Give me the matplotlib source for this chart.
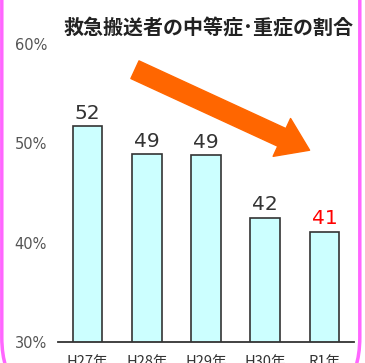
import matplotlib
matplotlib.use("Agg")
import matplotlib.pyplot as plt
from matplotlib.patches import FancyBboxPatch

CJK = ["Noto Sans CJK JP", "DejaVu Sans"]
plt.rcParams["font.family"] = ["DejaVu Sans", "Noto Sans CJK JP"]

# data
YEARS = ["H27年", "H28年", "H29年", "H30年", "R1年"]
RATES = [51.7, 48.9, 48.8, 42.5, 41.1]      # bar heights (%)
LABELS = ["52", "49", "49", "42", "41"]     # printed values
LABEL_COLORS = ["#333333", "#333333", "#333333", "#333333", "#ff0000"]
Y_TICKS = [30, 40, 50, 60]
TITLE = "救急搬送者の中等症･重症の割合"

C_BAR, C_EDGE, C_ARROW, C_FRAME = "#ccffff", "#333333", "#ff6600", "#ff66ff"

W, H = 365, 363
fig = plt.figure(figsize=(W / 100, H / 100), dpi=100)
ax = fig.add_axes([58 / W, 21 / H, 296 / W, 318 / H])

x = range(len(YEARS))
ax.bar(x, RATES, width=0.5, color=C_BAR, edgecolor=C_EDGE, linewidth=1.2,
       zorder=2)
for i, (v, lab, c) in enumerate(zip(RATES, LABELS, LABEL_COLORS)):
    ax.annotate(lab, xy=(i, v), xytext=(0, 2.5), textcoords="offset points",
                ha="center", va="bottom", fontsize=14.5, color=c)

# downward trend arrow (decoration)
ax.annotate("", xy=(3.75, 49.3), xytext=(0.8, 57.4),
            arrowprops=dict(arrowstyle="simple,tail_width=14,head_width=30,"
                                       "head_length=22",
                            color=C_ARROW, mutation_scale=1,
                            shrinkA=0, shrinkB=0), zorder=3)

ax.set_xlim(-0.5, 4.5)
ax.set_ylim(30, 62)
ax.set_yticks(Y_TICKS)
ax.set_yticklabels([f"{t}%" for t in Y_TICKS])
ax.set_xticks(list(x))
ax.set_xticklabels(YEARS, family=CJK)
ax.tick_params(axis="y", length=0, pad=8, labelsize=10.5, labelcolor="#555555")
ax.tick_params(axis="x", length=0, pad=9.5, labelsize=10.5,
               labelcolor="#333333")
for s in ("top", "right", "left"):
    ax.spines[s].set_visible(False)
ax.spines["bottom"].set_color(C_EDGE)
ax.spines["bottom"].set_linewidth(1.3)

fig.text(208.5 / W, 1 - 28 / H, TITLE, ha="center", va="center", family=CJK,
         fontsize=14.4, fontweight="bold", color="#222222")

# rounded magenta frame, mostly cropped by the image edges
frame = FancyBboxPatch((1.8 / W, -0.12), (358 / W), 1.4,
                       boxstyle="round,pad=0,rounding_size=0.19",
                       transform=fig.transFigure, fill=False,
                       edgecolor=C_FRAME, linewidth=2.5, zorder=10)
fig.patches.append(frame)

fig.savefig("out.png", dpi=100)
